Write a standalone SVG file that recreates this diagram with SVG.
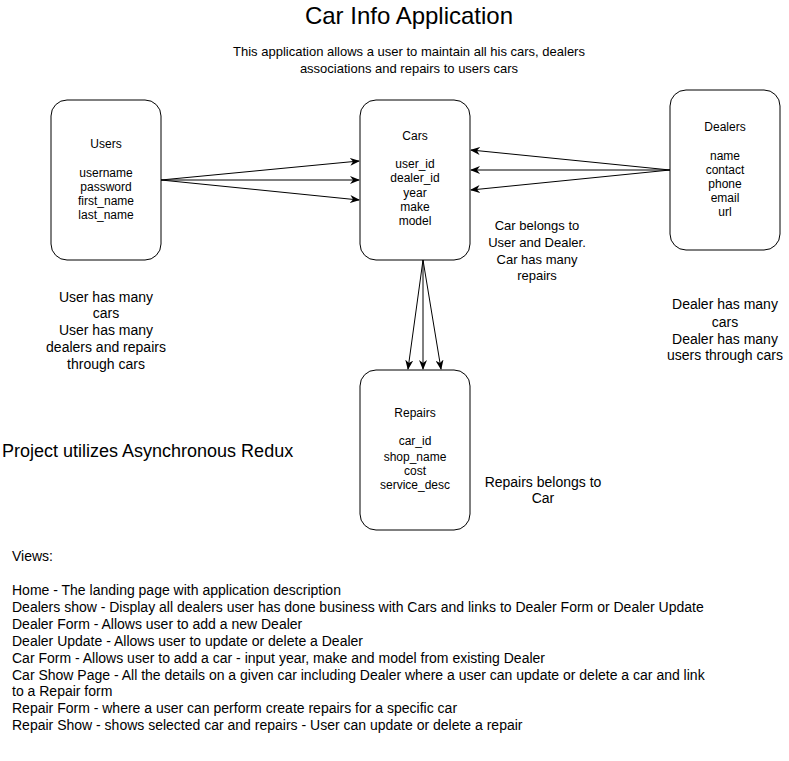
<svg xmlns="http://www.w3.org/2000/svg" width="789" height="761" viewBox="0 0 789 761">
<style>
text{font-family:"Liberation Sans",Arial,sans-serif;fill:#000}
.box{fill:#fff;stroke:#000;stroke-width:1}
.n{font-size:12px;text-anchor:middle}
.c{font-size:13px;text-anchor:middle}
.m{font-size:14px;text-anchor:middle}
.v{font-size:14px}
.e{fill:none;stroke:#000;stroke-width:1}
</style>
<defs>
<marker id="arr" viewBox="0 0 10 8" refX="9" refY="4" markerWidth="10" markerHeight="8" markerUnits="userSpaceOnUse" orient="auto">
<path d="M0,0 L10,4 L0,8 L3,4 z" fill="#000"/>
</marker>
</defs>
<rect width="789" height="761" fill="#fff"/>
<text x="409" y="24" font-size="24" text-anchor="middle">Car Info Application</text>
<text x="409" y="56" class="c" font-size="13.5">This application allows a user to maintain all his cars, dealers</text>
<text x="409" y="73" class="c" font-size="13.5">associations and repairs to users cars</text>

<g id="connectors">
<path class="e" d="M161,180 L359,161" marker-end="url(#arr)"/>
<path class="e" d="M161,180 L359,180" marker-end="url(#arr)"/>
<path class="e" d="M161,180 L359,200" marker-end="url(#arr)"/>
<path class="e" d="M670,170 L471,150" marker-end="url(#arr)"/>
<path class="e" d="M670,170 L471,170" marker-end="url(#arr)"/>
<path class="e" d="M670,170 L471,190" marker-end="url(#arr)"/>
<path class="e" d="M423,260 L408,369" marker-end="url(#arr)"/>
<path class="e" d="M423,260 L423,369" marker-end="url(#arr)"/>
<path class="e" d="M423,260 L441,369" marker-end="url(#arr)"/>
</g>

<g id="users">
<rect class="box" x="51" y="100" width="110" height="160" rx="16"/>
<text class="n" x="106" y="148">Users</text>
<text class="n" x="106" y="177">username</text>
<text class="n" x="106" y="191">password</text>
<text class="n" x="106" y="205">first_name</text>
<text class="n" x="106" y="219">last_name</text>
</g>

<g id="cars">
<rect class="box" x="360" y="100" width="110" height="160" rx="16"/>
<text class="n" x="415" y="140">Cars</text>
<text class="n" x="415" y="168">user_id</text>
<text class="n" x="415" y="182">dealer_id</text>
<text class="n" x="415" y="197">year</text>
<text class="n" x="415" y="211">make</text>
<text class="n" x="415" y="225">model</text>
</g>

<g id="dealers">
<rect class="box" x="670" y="90" width="110" height="160" rx="16"/>
<text class="n" x="725" y="131">Dealers</text>
<text class="n" x="725" y="160">name</text>
<text class="n" x="725" y="174">contact</text>
<text class="n" x="725" y="188">phone</text>
<text class="n" x="725" y="202">email</text>
<text class="n" x="725" y="216">url</text>
</g>

<g id="repairs">
<rect class="box" x="360" y="370" width="110" height="160" rx="16"/>
<text class="n" x="415" y="417">Repairs</text>
<text class="n" x="415" y="445">car_id</text>
<text class="n" x="415" y="461">shop_name</text>
<text class="n" x="415" y="475">cost</text>
<text class="n" x="415" y="489">service_desc</text>
</g>

<g id="notes">
<text class="c" x="537" y="230">Car belongs to</text>
<text class="c" x="537" y="247">User and Dealer.</text>
<text class="c" x="537" y="264">Car has many</text>
<text class="c" x="537" y="280">repairs</text>

<text class="m" x="106" y="302">User has many</text>
<text class="m" x="106" y="318">cars</text>
<text class="m" x="106" y="335">User has many</text>
<text class="m" x="106" y="352">dealers and repairs</text>
<text class="m" x="106" y="369">through cars</text>

<text class="m" x="725" y="309">Dealer has many</text>
<text class="m" x="725" y="327">cars</text>
<text class="m" x="725" y="344">Dealer has many</text>
<text class="m" x="725" y="360">users through cars</text>

<text x="2" y="457" font-size="18">Project utilizes Asynchronous Redux</text>

<text class="m" x="543" y="487">Repairs belongs to</text>
<text class="m" x="543" y="503">Car</text>
</g>

<g id="views">
<text class="v" x="12" y="561">Views:</text>
<text class="v" x="12" y="595">Home - The landing page with application description</text>
<text class="v" x="12" y="612">Dealers show - Display all dealers user has done business with Cars and links to Dealer Form or Dealer Update</text>
<text class="v" x="12" y="629">Dealer Form - Allows user to add a new Dealer</text>
<text class="v" x="12" y="646">Dealer Update - Allows user to update or delete a Dealer</text>
<text class="v" x="12" y="663">Car Form - Allows user to add a car - input year, make and model from existing Dealer</text>
<text class="v" x="12" y="680">Car Show Page - All the details on a given car including Dealer where a user can update or delete a car and link</text>
<text class="v" x="12" y="696">to a Repair form</text>
<text class="v" x="12" y="713">Repair Form -  where a user can perform create repairs for a specific car</text>
<text class="v" x="12" y="730">Repair Show - shows selected car and repairs - User can update or delete a repair</text>
</g>
</svg>
